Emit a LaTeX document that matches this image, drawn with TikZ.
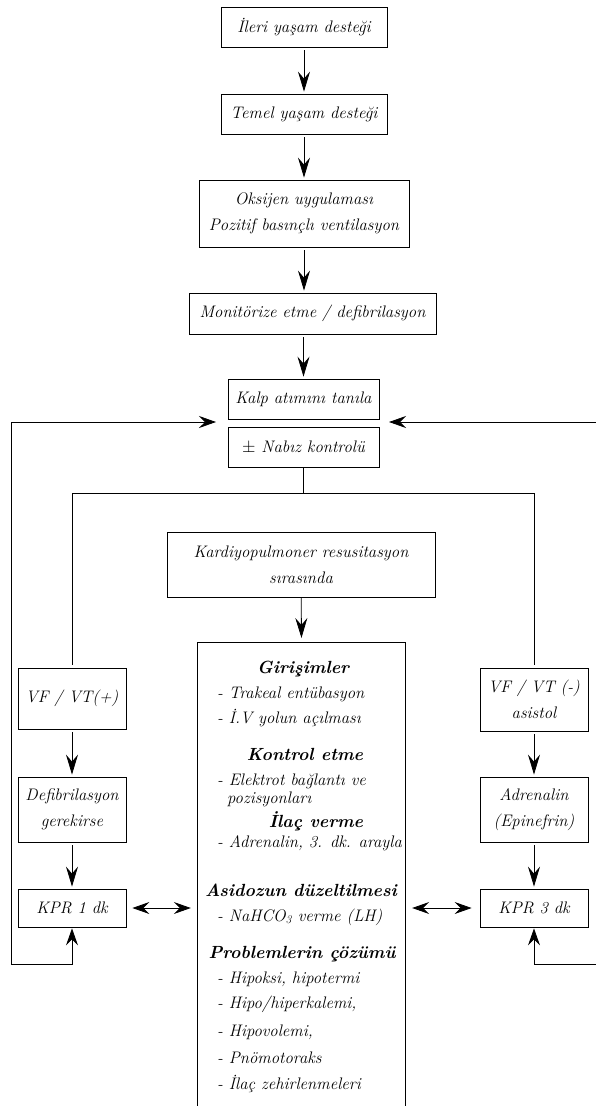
\documentclass[tikz,border=0pt]{standalone}
\usepackage{fontspec}
\usetikzlibrary{arrows.meta,positioning,calc}
\newcommand{\akisfont}{\fontsize{16.7}{26}\selectfont\itshape}
\newcommand{\baslikfont}{\fontsize{17.6}{26}\selectfont\itshape\bfseries}
\tikzset{
  kutu/.style={draw, line width=0.8pt, inner sep=0pt, align=center, font=\akisfont},
  satir/.style={inner sep=0pt, anchor=base west, font=\akisfont},
  baslik/.style={inner sep=0pt, anchor=base, font=\baslikfont},
  ok/.style={-{Stealth[length=20pt,width=12pt,inset=7pt]}, line width=0.8pt, shorten <=3pt, shorten >=2pt},
  cift/.style={{Stealth[length=17pt,width=12pt,inset=6pt]}-{Stealth[length=17pt,width=12pt,inset=6pt]}, line width=0.8pt},
  cizgi/.style={line width=0.8pt}
}
\begin{document}
\begin{tikzpicture}[x=1pt,y=-1pt]
\useasboundingbox (0,0) rectangle (595,1106);
\node[kutu,minimum width=166pt,minimum height=40pt] (ileri) at (304,27) {İleri yaşam desteği};
\node[kutu,minimum width=166pt,minimum height=40pt] (temel) at (304,114) {Temel yaşam desteği};
\node[kutu,minimum width=210pt,minimum height=67pt] (oksijen) at (304,213.5) {Oksijen uygulaması\\Pozitif basınçlı ventilasyon};
\node[kutu,minimum width=247pt,minimum height=41pt] (monitor) at (312.5,313.5) {Monitörize etme / defibrilasyon};
\node[kutu,minimum width=151pt,minimum height=40pt] (kalp) at (303.5,399) {Kalp atımını tanıla};
\node[kutu,minimum width=151pt,minimum height=40pt] (nabiz) at (303.5,447) {$\pm$ Nabız kontrolü};
\node[kutu,minimum width=268pt,minimum height=65pt] (kpr) at (301,564.5) {Kardiyopulmoner resusitasyon\\sırasında};
\node[kutu,minimum width=108pt,minimum height=61pt] (vfarti) at (72,698.5) {VF / VT(+)};
\node[kutu,minimum width=108pt,minimum height=65pt] (defib) at (72,809.5) {Defibrilasyon\\gerekirse};
\node[kutu,minimum width=108pt,minimum height=38pt] (kprbir) at (72,908) {KPR 1 dk};
\node[kutu,minimum width=108pt,minimum height=63pt] (vfeksi) at (534,699.5) {VF / VT (-)\\asistol};
\node[kutu,minimum width=108pt,minimum height=65pt] (adrenalin) at (534,809.5) {Adrenalin\\(Epinefrin)};
\node[kutu,minimum width=108pt,minimum height=38pt] (kpruc) at (534,908) {KPR 3 dk};
\node[minimum width=207pt,minimum height=470pt,inner sep=0pt,anchor=north] (girisim) at (301.5,642) {};
\draw[cizgi] (girisim.south west) -- (girisim.north west) -- (girisim.north east) -- (girisim.south east);
\node[baslik] (g1) at (303,673) {Girişimler};
\node[satir] (g2) at (217,698) {- Trakeal entübasyon};
\node[satir] (g3) at (217,723) {- İ.V yolun açılması};
\node[baslik] (g4) at (305,760) {Kontrol etme};
\node[satir] (g5) at (217,785) {- Elektrot bağlantı ve};
\node[satir] (g6) at (227,803) {pozisyonları};
\node[baslik] (g7) at (316,827) {İlaç verme};
\node[satir] (g8) at (217,847) {- Adrenalin, 3. dk. arayla};
\node[baslik] (g9) at (301,896) {Asidozun düzeltilmesi};
\node[satir] (g10) at (217,921) {- NaHCO\textsubscript{3} verme (LH)};
\node[baslik] (g11) at (302,958) {Problemlerin çözümü};
\node[satir] (g12) at (217,983) {- Hipoksi, hipotermi};
\node[satir] (g13) at (217,1008) {- Hipo/hiperkalemi,};
\node[satir] (g14) at (217,1036) {- Hipovolemi,};
\node[satir] (g15) at (217,1063) {- Pnömotoraks};
\node[satir] (g16) at (217,1089) {- İlaç zehirlenmeleri};
\coordinate (kalpsol) at (216,422);
\coordinate (kalpsag) at (389,422);
\coordinate (ayrim) at ($(nabiz.south)+(0,26)$);
\draw[ok] (ileri) -- (temel);
\draw[ok] (temel) -- (oksijen);
\draw[ok] (oksijen.south) -- (oksijen.south |- monitor.north);
\draw[ok] (monitor.south -| kalp.north) -- (kalp.north);
\draw[cizgi] (nabiz.south) -- (ayrim);
\draw[cizgi,shorten >=3pt] (ayrim) -| (vfarti.north);
\draw[cizgi,shorten >=3pt] (ayrim) -| (vfeksi.north);
\draw[ok,shorten <=0pt,shorten >=4pt] (kpr) -- (girisim.north);
\draw[ok] (vfarti) -- (defib);
\draw[ok] (defib) -- (kprbir);
\draw[ok] (vfeksi) -- (adrenalin);
\draw[ok] (adrenalin) -- (kpruc);
\draw[cift,shorten <=6pt,shorten >=7pt] (kprbir.east) -- (kprbir.east -| girisim.west);
\draw[cift,shorten <=7pt,shorten >=8pt] (kpruc.west -| girisim.east) -- (kpruc.west);
\draw[cift,shorten <=1pt] (kprbir.south) -- (72,964) -- (11,964) -- (11,422) -- (kalpsol);
\draw[cift,shorten <=1pt] (kpruc.south) -- (534,964) -- (597,964) -- (597,422) -- (kalpsag);
\end{tikzpicture}
\end{document}
